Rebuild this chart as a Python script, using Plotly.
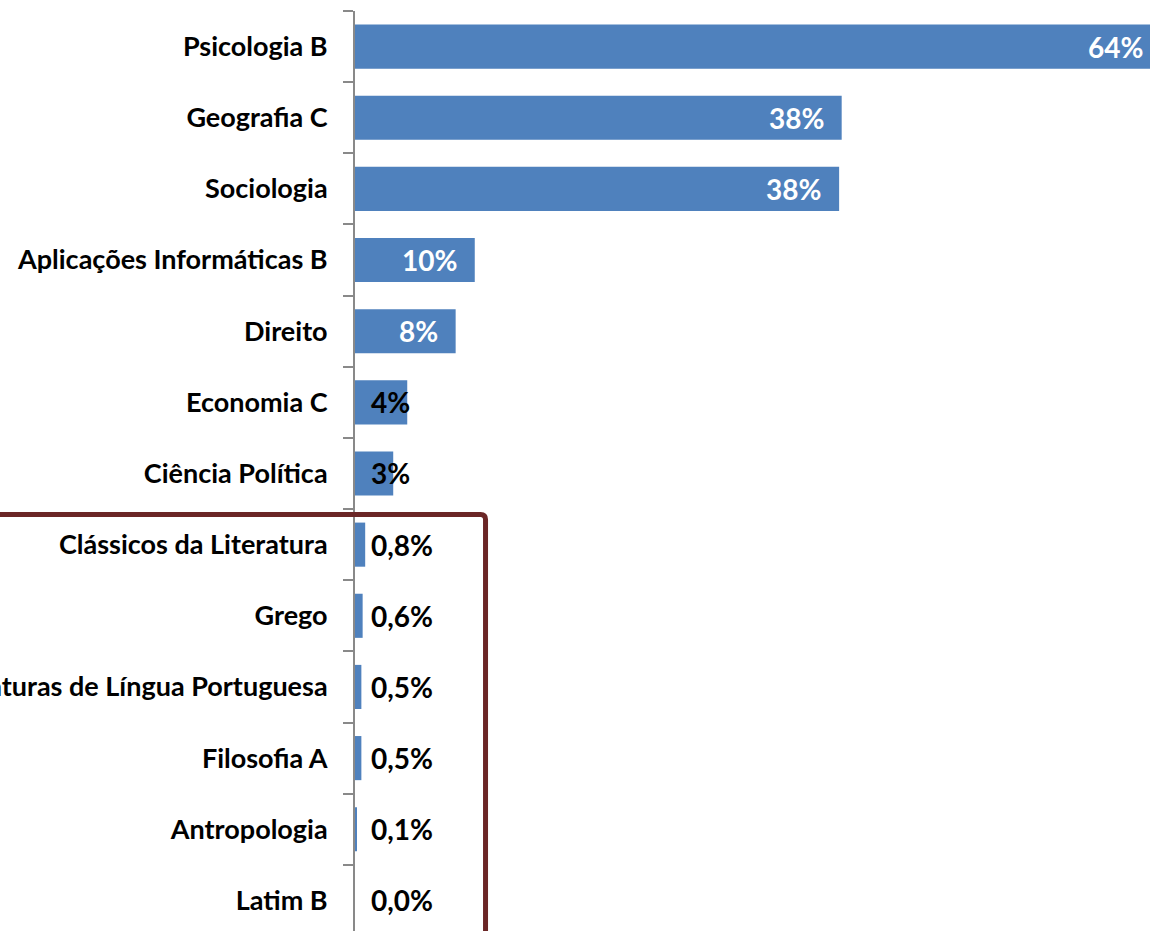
import plotly.graph_objects as go

categories = [
    "Psicologia B", "Geografia C", "Sociologia", "Aplicações Informáticas B",
    "Direito", "Economia C", "Ciência Política", "Clássicos da Literatura",
    "Grego", "Literaturas de Língua Portuguesa", "Filosofia A", "Antropologia",
    "Latim B",
]
values = [64.0, 38.2, 38.0, 9.4, 7.9, 4.1, 3.0, 0.8, 0.6, 0.5, 0.5, 0.1, 0.0]
labels = ["64%", "38%", "38%", "10%", "8%", "4%", "3%",
          "0,8%", "0,6%", "0,5%", "0,5%", "0,1%", "0,0%"]

X_MAX = 62.4
BAR_COLOR = "#4F81BD"
FONT = "Lato"

fig = go.Figure()
fig.add_trace(go.Bar(
    y=categories, x=values, orientation="h",
    marker=dict(color=BAR_COLOR, line=dict(width=0)),
    width=0.62, hoverinfo="skip",
))

for cat, val, lab in zip(categories, values, labels):
    if val >= 5:
        if val > X_MAX:
            fig.add_annotation(x=1, xref="paper", y=cat, yref="y", text=lab,
                               showarrow=False, xanchor="right", xshift=-5,
                               font=dict(family=FONT, size=28, color="white", weight="bold"))
        else:
            fig.add_annotation(x=val, xref="x", y=cat, yref="y", text=lab,
                               showarrow=False, xanchor="right", xshift=-16,
                               font=dict(family=FONT, size=28, color="white", weight="bold"))
    else:
        fig.add_annotation(x=0, xref="x", y=cat, yref="y", text=lab,
                           showarrow=False, xanchor="left", xshift=14,
                           font=dict(family=FONT, size=28, color="black", weight="bold"))

# highlight box (dark red), partly out of view
fig.add_shape(
    type="path", xref="paper", yref="paper",
    path="M -0.6,0.4527 L 0.158,0.4527 Q 0.1642,0.4527 0.1642,0.4472 L 0.1642,-0.2",
    line=dict(color="#6B2626", width=5),
    layer="above",
)

fig.update_layout(
    width=1150, height=931,
    margin=dict(l=355, r=0, t=11, b=0, autoexpand=False),
    plot_bgcolor="white", paper_bgcolor="white",
    showlegend=False, bargap=0.38,
)
fig.update_xaxes(range=[0, X_MAX], visible=False, showgrid=False, zeroline=False)
fig.update_yaxes(
    type="category", categoryorder="array", categoryarray=categories,
    range=[12.43, -0.5], automargin=False,
    showline=True, linecolor="#898989", linewidth=2,
    ticks="outside", tickson="boundaries", ticklen=10, tickcolor="#898989", tickwidth=2,
    ticklabelstandoff=20,
    tickfont=dict(family=FONT, size=27, color="black", weight="bold"),
    showgrid=False, zeroline=False,
)

fig.write_html(
    "out.html",
    config={"displayModeBar": False},
    post_script="document.body.style.margin='0';document.body.style.overflow='hidden';",
)
